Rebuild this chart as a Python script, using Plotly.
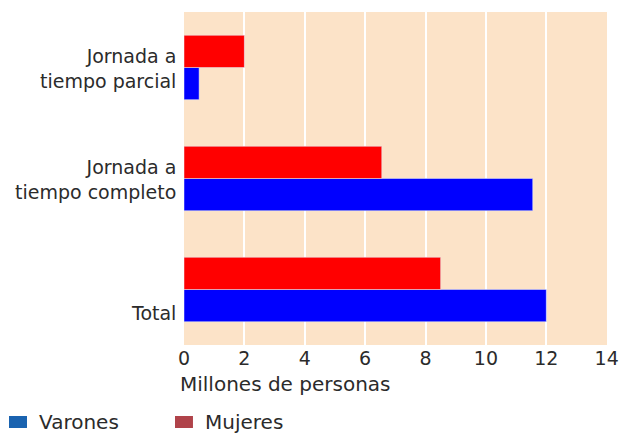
import plotly.graph_objects as go

# categories bottom to top
categories = ["Total", "Jornada a tiempo completo", "Jornada a tiempo parcial"]
category_labels = ["Total", "Jornada a<br>tiempo completo", "Jornada a<br>tiempo parcial"]
varones = [12.0, 11.55, 0.5]
mujeres = [8.5, 6.55, 2.0]
x_ticks = [0, 2, 4, 6, 8, 10, 12, 14]
series_names = ["Varones", "Mujeres"]
legend_colors = ["#1a63b0", "#b0434a"]

font_family = "DejaVu Sans, Verdana, sans-serif"
text_color = "#2b2b2b"

fig = go.Figure()

fig.add_trace(go.Bar(y=categories, x=varones, orientation="h", name=series_names[0],
                     marker_color="#0000FF"))
fig.add_trace(go.Bar(y=categories, x=mujeres, orientation="h", name=series_names[1],
                     marker_color="#FF0000"))

# category labels as annotations so they can sit like the original
label_shift = [-23, -1, -1]
for cat, lab, sh in zip(categories, category_labels, label_shift):
    fig.add_annotation(x=0, xref="paper", y=cat, yref="y", text=lab,
                       xanchor="right", yanchor="middle", align="right",
                       showarrow=False, xshift=-6, yshift=sh,
                       font=dict(size=19, color=text_color, family=font_family))

# axis title, left aligned under the ticks
fig.add_annotation(x=-0.015, xref="paper", y=0, yref="paper", text="Millones de personas",
                   xanchor="left", yanchor="middle", showarrow=False, yshift=-39,
                   font=dict(size=20, color=text_color, family=font_family))

# legend drawn by hand: small flat swatches (the original's legend colours differ from the bars)
legend_x = [-0.4137, -0.0213]
for name, col, lx in zip(series_names, legend_colors, legend_x):
    fig.add_shape(type="rect", xref="paper", yref="paper",
                  x0=lx, x1=lx + 0.0425, y0=-0.2492, y1=-0.2132,
                  fillcolor=col, line_width=0)
    fig.add_annotation(x=lx + 0.066, xref="paper", y=-0.2312, yref="paper", text=name,
                       xanchor="left", yanchor="middle", showarrow=False,
                       font=dict(size=20, color=text_color, family=font_family))

fig.update_layout(
    width=619, height=433,
    margin=dict(l=184, r=12, t=12, b=88),
    plot_bgcolor="#FCE3C8",
    paper_bgcolor="white",
    barmode="group",
    bargap=0.42,
    bargroupgap=0,
    font=dict(family=font_family, size=17, color=text_color),
    showlegend=False,
    xaxis=dict(range=[0, 14.01], tickvals=x_ticks, showgrid=True, gridcolor="white",
               gridwidth=2, zeroline=False, showline=False, ticks="",
               tickfont=dict(size=19), automargin=False),
    yaxis=dict(categoryorder="array", categoryarray=categories,
               showticklabels=False, showgrid=False, zeroline=False,
               range=[-0.5, 2.5], automargin=False),
)

# drop the page's default 8px body margin so the figure fills the window
fig.write_html("out.html", config={"displayModeBar": False},
               post_script="document.body.style.margin='0';document.body.style.overflow='hidden';")
